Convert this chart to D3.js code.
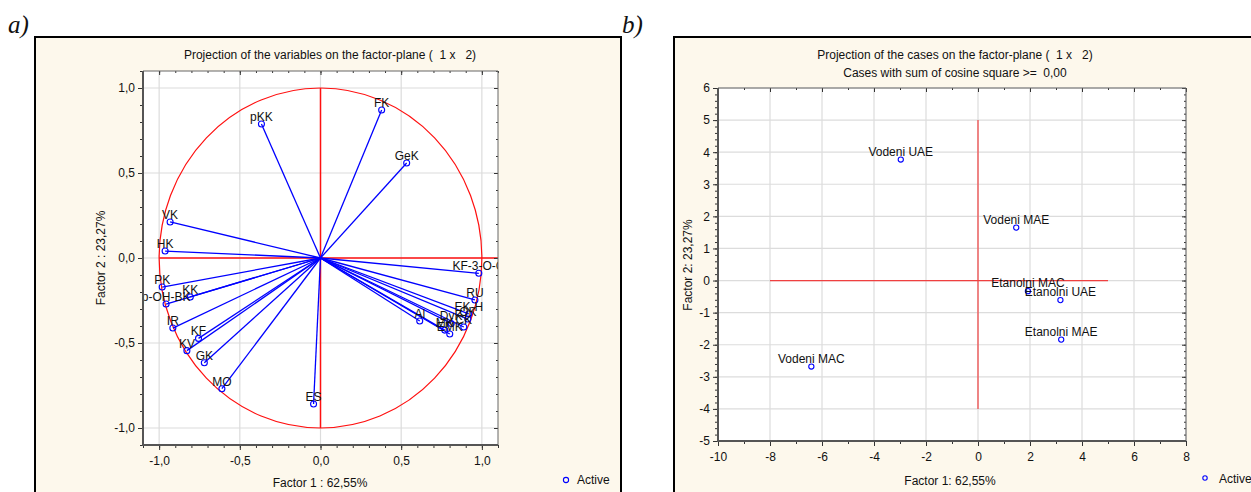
<!DOCTYPE html>
<html><head><meta charset="utf-8">
<script src="https://cdn.jsdelivr.net/npm/d3@7"></script>
<style>
body{margin:0;background:#fff}
text{font-family:"Liberation Sans",Arial,sans-serif;fill:#111;white-space:pre}
.axis path,.axis line{stroke:#333}
</style></head>
<body><svg id="c" width="1251" height="492"></svg>
<script>
// ---- Data: panel a) variable loadings ----
const varNames = ["FK","pKK","GeK","VK","HK","KF-3-O-G","RU","EK-H","OK","CK","DyK","MK","EMK","Al","PK","p-OH-BK","KK","IR","KF","KV","GK","MO","ES"];
const varF1 = [0.379,-0.366,0.534,-0.932,-0.963,0.981,0.957,0.919,0.913,0.888,0.810,0.770,0.801,0.615,-0.981,-0.957,-0.807,-0.915,-0.756,-0.828,-0.720,-0.611,-0.043];
const varF2 = [0.871,0.788,0.559,0.212,0.041,-0.090,-0.247,-0.329,-0.359,-0.406,-0.385,-0.424,-0.447,-0.371,-0.171,-0.271,-0.229,-0.412,-0.473,-0.545,-0.616,-0.769,-0.859];
const leftTicks = [-1,-0.5,0,0.5,1];
// ---- Data: panel b) case scores ----
const caseNames = ["Vodeni UAE","Vodeni MAE","Etanolni MAC","Etanolni UAE","Etanolni MAE","Vodeni MAC"];
const caseF1 = [-2.97,1.47,1.92,3.17,3.20,-6.41];
const caseF2 = [3.77,1.65,-0.33,-0.61,-1.84,-2.68];
const rightXTicks = [-10,-8,-6,-4,-2,0,2,4,6,8];
const rightYTicks = [-5,-4,-3,-2,-1,0,1,2,3,4,5,6];

const svg = d3.select("#c");
const cream = "#fdf8ec";
const fmtL = v => d3.format(".1f")(v).replace("−","-").replace(".",",");
const fmtR = v => String(v);

svg.append("rect").attr("x",35).attr("y",37).attr("width",586).attr("height",460).attr("fill",cream).attr("stroke","#000").attr("stroke-width",2);
svg.append("rect").attr("x",674).attr("y",37).attr("width",590).attr("height",460).attr("fill",cream).attr("stroke","#000").attr("stroke-width",2);
svg.append("text").attr("x",8).attr("y",33).style("font-family","'Liberation Serif',serif").attr("font-style","italic").attr("font-size",25).text("a)");
svg.append("text").attr("x",622).attr("y",33).style("font-family","'Liberation Serif',serif").attr("font-style","italic").attr("font-size",25).text("b)");

function frame(g, x, y, x0, x1, y0, y1, xMaj, yMaj){
  g.append("rect").attr("x",x0).attr("y",y1).attr("width",x1-x0).attr("height",y0-y1).attr("fill","#fff");
  g.append("g").selectAll("line").data(xMaj).join("line")
    .attr("x1",d=>x(d)).attr("x2",d=>x(d)).attr("y1",y1).attr("y2",y0).attr("stroke","#dcdcdc").attr("stroke-width",1.2);
  g.append("g").selectAll("line").data(yMaj).join("line")
    .attr("y1",d=>y(d)).attr("y2",d=>y(d)).attr("x1",x0).attr("x2",x1).attr("stroke","#dcdcdc").attr("stroke-width",1.2);
}
function axes(g, x, y, x0, x1, y0, y1, xMaj, yMaj, xMin, yMin, fmt){
  g.append("g").attr("class","axis").attr("transform",`translate(0,${y0})`)
    .call(d3.axisBottom(x).tickValues(xMaj).tickSize(5).tickPadding(6).tickFormat(fmt));
  g.append("g").attr("class","axis").attr("transform",`translate(0,${y0})`)
    .call(d3.axisBottom(x).tickValues(xMin).tickSize(3).tickFormat(""));
  g.append("g").attr("class","axis").attr("transform",`translate(${x0},0)`)
    .call(d3.axisLeft(y).tickValues(yMaj).tickSize(5).tickPadding(3).tickFormat(fmt));
  g.append("g").attr("class","axis").attr("transform",`translate(${x0},0)`)
    .call(d3.axisLeft(y).tickValues(yMin).tickSize(3).tickFormat(""));
  g.append("g").attr("class","axis").attr("transform",`translate(0,${y1})`)
    .call(d3.axisTop(x).tickValues(xMaj).tickSize(-4).tickFormat(""));
  g.append("g").attr("class","axis").attr("transform",`translate(0,${y1})`)
    .call(d3.axisTop(x).tickValues(xMin).tickSize(-2).tickFormat(""));
  g.append("g").attr("class","axis").attr("transform",`translate(${x1},0)`)
    .call(d3.axisRight(y).tickValues(yMaj).tickSize(-4).tickFormat(""));
  g.append("g").attr("class","axis").attr("transform",`translate(${x1},0)`)
    .call(d3.axisRight(y).tickValues(yMin).tickSize(-2).tickFormat(""));
  g.selectAll(".axis .domain").remove();
  g.selectAll(".axis text").attr("font-size",12).attr("fill","#222").style("font-family","'Liberation Sans',Arial,sans-serif");
  g.append("line").attr("x1",x0).attr("x2",x1).attr("y1",y1).attr("y2",y1).attr("stroke","#666").attr("stroke-width",1);
  g.append("line").attr("x1",x1).attr("x2",x1).attr("y1",y1).attr("y2",y0).attr("stroke","#666").attr("stroke-width",1);
  g.append("line").attr("x1",x0).attr("x2",x0).attr("y1",y1).attr("y2",y0+1).attr("stroke","#555").attr("stroke-width",2);
  g.append("line").attr("x1",x0-1).attr("x2",x1).attr("y1",y0).attr("y2",y0).attr("stroke","#555").attr("stroke-width",2);
}

// ===== Panel a =====
{
  const g = svg.append("g");
  const x0=143,x1=498,y0=445,y1=71;
  const x = d3.scaleLinear([-1.1,1.1],[x0,x1]);
  const y = d3.scaleLinear([-1.1,1.1],[y0,y1]);
  const minor = d3.range(-11,12).map(i=>i/10);
  frame(g,x,y,x0,x1,y0,y1,leftTicks,leftTicks);
  g.append("clipPath").attr("id","clipA").append("rect").attr("x",x0).attr("y",y1).attr("width",x1-x0).attr("height",y0-y1);
  const p = g.append("g").attr("clip-path","url(#clipA)");
  p.append("ellipse").attr("cx",x(0)).attr("cy",y(0)).attr("rx",x(1)-x(0)).attr("ry",y(0)-y(1))
    .attr("fill","none").attr("stroke","#ff1010").attr("stroke-width",1.2);
  p.append("line").attr("x1",x(-1)).attr("x2",x(1.1)).attr("y1",y(0)).attr("y2",y(0)).attr("stroke","#ff1010").attr("stroke-width",1.5);
  p.append("line").attr("x1",x(0)).attr("x2",x(0)).attr("y1",y(1)).attr("y2",y(-1)).attr("stroke","#ff1010").attr("stroke-width",1.5);
  const data = varNames.map((n,i)=>({n,a:varF1[i],b:varF2[i]}));
  p.append("g").selectAll("line").data(data).join("line")
    .attr("x1",x(0)).attr("y1",y(0)).attr("x2",d=>x(d.a)).attr("y2",d=>y(d.b))
    .attr("stroke","#0000ff").attr("stroke-width",1.3);
  p.append("g").selectAll("circle").data(data).join("circle")
    .attr("cx",d=>x(d.a)).attr("cy",d=>y(d.b)).attr("r",3)
    .attr("fill","none").attr("stroke","#0000ff").attr("stroke-width",1.1);
  p.append("g").selectAll("text").data(data).join("text")
    .attr("x",d=>x(d.a)).attr("y",d=>y(d.b)-3).attr("text-anchor","middle").attr("font-size",12).attr("fill","#111").text(d=>d.n);
  axes(g,x,y,x0,x1,y0,y1,leftTicks,leftTicks,minor,minor,fmtL);
  g.append("text").attr("x",330).attr("y",59).attr("text-anchor","middle").attr("font-size",12).text("Projection of the variables on the factor-plane (  1 x   2)");
  g.append("text").attr("x",320).attr("y",487).attr("text-anchor","middle").attr("font-size",12).text("Factor 1 : 62,55%");
  g.append("text").attr("transform","translate(105,258) rotate(-90)").attr("text-anchor","middle").attr("font-size",12).text("Factor 2 : 23,27%");
  g.append("circle").attr("cx",566).attr("cy",480).attr("r",2.6).attr("fill","none").attr("stroke","#0000ff").attr("stroke-width",1.1);
  g.append("text").attr("x",577).attr("y",484).attr("font-size",12).text("Active");
}

// ===== Panel b =====
{
  const g = svg.append("g");
  const x0=718,x1=1186,y0=441,y1=88;
  const x = d3.scaleLinear([-10,8],[x0,x1]);
  const y = d3.scaleLinear([-5,6],[y0,y1]);
  const xMin = d3.range(-10,9,1);
  const yMin = d3.range(-25,31).map(i=>i/5);
  frame(g,x,y,x0,x1,y0,y1,rightXTicks,rightYTicks);
  g.append("line").attr("x1",x(-8)).attr("x2",x(5)).attr("y1",y(0)).attr("y2",y(0)).attr("stroke","#f04040").attr("stroke-width",1.2);
  g.append("line").attr("x1",x(0)).attr("x2",x(0)).attr("y1",y(5)).attr("y2",y(-4)).attr("stroke","#f04040").attr("stroke-width",1.2);
  const data = caseNames.map((n,i)=>({n,a:caseF1[i],b:caseF2[i]}));
  g.append("g").selectAll("circle").data(data).join("circle")
    .attr("cx",d=>x(d.a)).attr("cy",d=>y(d.b)).attr("r",2.6)
    .attr("fill","none").attr("stroke","#0000ff").attr("stroke-width",1.1);
  g.append("g").selectAll("text").data(data).join("text")
    .attr("x",d=>x(d.a)).attr("y",d=>y(d.b)-4).attr("text-anchor","middle").attr("font-size",12).attr("fill","#111").text(d=>d.n);
  axes(g,x,y,x0,x1,y0,y1,rightXTicks,rightYTicks,xMin,yMin,fmtR);
  g.selectAll(".axis text").text(function(){return this.textContent.replace("−","-");});
  g.append("text").attr("x",955).attr("y",59).attr("text-anchor","middle").attr("font-size",12).text("Projection of the cases on the factor-plane (  1 x   2)");
  g.append("text").attr("x",955).attr("y",77).attr("text-anchor","middle").attr("font-size",12).text("Cases with sum of cosine square >=  0,00");
  g.append("text").attr("x",950).attr("y",485).attr("text-anchor","middle").attr("font-size",12).text("Factor 1: 62,55%");
  g.append("text").attr("transform","translate(692,265) rotate(-90)").attr("text-anchor","middle").attr("font-size",12).text("Factor 2: 23,27%");
  g.append("circle").attr("cx",1205).attr("cy",478).attr("r",2.2).attr("fill","none").attr("stroke","#0000ff").attr("stroke-width",1.1);
  g.append("text").attr("x",1219).attr("y",483).attr("font-size",12).text("Active");
}
</script></body></html>
